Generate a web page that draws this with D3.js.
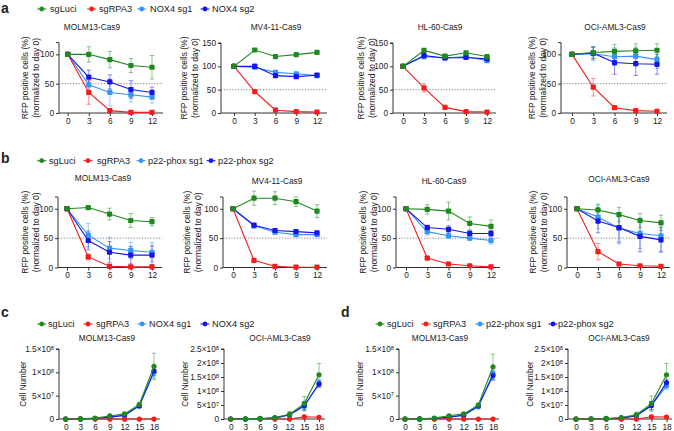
<!DOCTYPE html>
<html><head><meta charset="utf-8">
<script src="https://cdn.jsdelivr.net/npm/d3@7"></script>
<style>body{margin:0;background:#fff}svg{display:block}text{font-family:"Liberation Sans",Arial,sans-serif;fill:#222}</style>
</head><body><svg id="c" width="674" height="431"></svg>
<script>
// ---------------- DATA ----------------
const namesNOX4 = ["sgLuci", "sgRPA3", "NOX4 sg1", "NOX4 sg2"];
const namesP22 = ["sgLuci", "sgRPA3", "p22-phox sg1", "p22-phox sg2"];
const daysRFP = [0, 3, 6, 9, 12];
const daysGrowth = [0, 3, 6, 9, 12, 15, 18];
const cellLinesAB = ["MOLM13-Cas9", "MV4-11-Cas9", "HL-60-Cas9", "OCI-AML3-Cas9"];
const cellLinesCD = ["MOLM13-Cas9", "OCI-AML3-Cas9"];
const rfpTicks120 = [0, 50, 100];
const rfpTicks150 = [0, 50, 100, 150];
const cellTicksMOLM13 = [0, 5e7, 1e8, 1.5e8];
const cellTicksOCI = [0, 5e7, 1e8, 1.5e8, 2e8, 2.5e8];

// panel a (NOX4) means / errors  : order sgLuci, sgRPA3, sg1, sg2
const aMOLM13 = [[100,100,91,81,78],[100,35,4,1,1],[100,48,35,31,27],[100,61,53,40,35]];
const aMOLM13Err = [[0,13,14,12,20],[0,20,2,1,1],[0,13,23,12,10],[0,12,12,15,9]];
const aMV411 = [[100,135,121,125,130],[100,46,6,3,2],[100,98,87,84,80],[100,100,80,78,81]];
const aMV411Err = [[0,3,3,3,3],[0,3,2,1,1],[0,3,4,3,3],[0,5,3,3,3]];
const aHL60 = [[100,134,122,129,121],[100,54,12,3,2],[100,121,118,121,112],[100,123,118,119,116]];
const aHL60Err = [[0,3,3,3,3],[0,9,2,1,1],[0,5,3,4,3],[0,3,3,3,3]];
const aOCI = [[100,103,105,106,107],[100,44,9,4,3],[100,101,96,97,91],[100,102,86,84,83]];
const aOCIErr = [[0,10,12,12,11],[0,15,2,1,1],[0,12,15,15,15],[0,10,20,20,17]];
// panel b (p22-phox)
const bMOLM13 = [[100,102,91,80,78],[100,18,2,1,1],[100,55,33,29,26],[100,46,26,21,21]];
const bMOLM13Err = [[0,2,10,12,7],[0,5,1,1,1],[0,20,18,14,16],[0,16,18,15,16]];
const bMV411 = [[100,118,118,112,96],[100,12,2,0.5,0.5],[100,71,60,56,56],[100,72,63,61,59]];
const bMV411Err = [[0,12,11,8,11],[0,2,1,0,0],[0,4,3,3,3],[0,3,3,3,3]];
const bHL60 = [[100,99,96,75,70],[100,16,6,3,1],[100,61,54,50,46],[100,68,65,58,58]];
const bHL60Err = [[0,8,15,11,11],[0,2,1,1,1],[0,6,4,4,6],[0,4,6,4,5]];
const bOCI = [[100,98,90,80,76],[100,27,6,3,2],[100,86,67,58,54],[100,79,68,53,47]];
const bOCIErr = [[0,10,12,12,13],[0,14,3,2,1],[0,20,27,26,26],[0,20,25,26,21]];
// panel c (NOX4 growth)
const cMOLM13 = [[0,2e5,2e6,6.5e6,1.1e7,3.1e7,1.13e8],[0,0,0,0,0,0,0],[0,1e5,1e6,4e6,7.5e6,2.8e7,1.0e8],[0,1e5,1e6,4e6,8e6,2.8e7,1.03e8]];
const cMOLM13Err = [[0,0,1e6,2e6,3e6,4e6,2.8e7],[0,0,0,0,0,0,0],[0,0,1e6,1e6,2e6,3e6,1.2e7],[0,0,1e6,1e6,2e6,3e6,1e7]];
const cOCI = [[0,5e5,2e6,5e6,1.7e7,5.5e7,1.58e8],[0,0,0,0,0,8e6,6e6],[0,0,1e6,3e6,1.5e7,4.5e7,1.28e8],[0,0,1e6,3e6,1.5e7,4.8e7,1.25e8]];
const cOCIErr = [[0,0,1e6,2e6,1e7,2.5e7,4e7],[0,0,0,0,0,5e6,5e6],[0,0,1e6,2e6,5e6,1.5e7,1.2e7],[0,0,1e6,2e6,5e6,1.5e7,1.2e7]];
// panel d (p22-phox growth)
const dMOLM13 = [[0,2e5,2e6,7e6,1.1e7,3e7,1.12e8],[0,0,0,0,0,0,0],[0,1e5,1e6,4e6,8e6,2.6e7,0.98e8],[0,1e5,1e6,4e6,8e6,2.8e7,0.93e8]];
const dMOLM13Err = [[0,0,1e6,2e6,3e6,4e6,2.7e7],[0,0,0,0,0,0,0],[0,0,1e6,1e6,2e6,3e6,1.2e7],[0,0,1e6,1e6,2e6,3e6,1e7]];
const dOCI = [[0,5e5,2e6,5e6,1.5e7,5.5e7,1.58e8],[0,0,0,0,0,8e6,7e6],[0,0,1e6,3e6,1.2e7,4.8e7,1.18e8],[0,0,1e6,3e6,1.2e7,4.8e7,1.3e8]];
const dOCIErr = [[0,0,1e6,2e6,1e7,2.7e7,4e7],[0,0,0,0,0,5e6,5e6],[0,0,1e6,2e6,5e6,1.5e7,1.2e7],[0,0,1e6,2e6,5e6,1.5e7,1.2e7]];

const colors = ["#1e8a1e", "#f41c1c", "#3396f5", "#1616ea"];

// ---------------- DRAW ----------------
const svg = d3.select("#c");
const FONT = '"Liberation Sans",Arial,sans-serif';

function supLabel(sel, v) {
  sel.text(null);
  if (v === 0) { sel.append("tspan").text("0"); return; }
  const e = Math.floor(Math.log10(v));
  const m = +(v / Math.pow(10, e)).toFixed(2);
  sel.append("tspan").text(m + "\u00d710");
  sel.append("tspan").attr("dy", "-0.45em").attr("font-size", "0.7em").text(e);
}

function panel(p) {
  const g = svg.append("g");
  const x = d3.scaleLinear().domain([p.days[0], p.days[p.days.length - 1]]).range(p.xr);
  const y = d3.scaleLinear().domain(p.yd).range(p.yr);
  if (p.ref) {
    g.append("line").attr("x1", p.axL).attr("x2", p.axR).attr("y1", y(50)).attr("y2", y(50))
      .attr("stroke", "#777").attr("stroke-width", 0.9).attr("stroke-dasharray", "1.2,1.6");
  }
  const ya = d3.axisLeft(y).tickValues(p.yticks).tickSize(3).tickPadding(2);
  const yg = g.append("g").attr("transform", `translate(${p.axL},0)`).call(ya);
  yg.select(".domain").attr("d", `M-3,${y(p.yd[1])}H0V${y(0)}`);
  if (p.sup) yg.selectAll(".tick text").each(function (d) { supLabel(d3.select(this), d); });
  const xa = d3.axisBottom(x).tickValues(p.days).tickSize(3).tickPadding(2);
  const xg = g.append("g").attr("transform", `translate(0,${y(0)})`).call(xa);
  xg.select(".domain").attr("d", `M${p.axL},0H${p.axR}`);
  [yg, xg].forEach(a => {
    a.selectAll("path,line").attr("stroke", "#333").attr("stroke-width", 1);
    a.selectAll("text").attr("font-family", FONT).attr("font-size", 8.3).attr("fill", "#222");
  });
  const order = [2, 3, 1, 0];
  order.forEach(si => {
    const col = colors[si];
    p.days.forEach((d, i) => {
      const e = p.err[si][i]; if (!e) return;
      const m = p.mean[si][i];
      const eg = g.append("g").attr("stroke", col).attr("stroke-opacity", 0.55).attr("stroke-width", 0.9);
      eg.append("line").attr("x1", x(d)).attr("x2", x(d)).attr("y1", y(m - e)).attr("y2", y(m + e));
      eg.append("line").attr("x1", x(d) - 2.2).attr("x2", x(d) + 2.2).attr("y1", y(m + e)).attr("y2", y(m + e));
      eg.append("line").attr("x1", x(d) - 2.2).attr("x2", x(d) + 2.2).attr("y1", y(m - e)).attr("y2", y(m - e));
    });
  });
  order.forEach(si => {
    const col = colors[si];
    const pts = p.days.map((d, i) => [d, p.mean[si][i]]);
    g.append("path").datum(pts).attr("fill", "none").attr("stroke", col).attr("stroke-width", 1.1)
      .attr("d", d3.line().x(q => x(q[0])).y(q => y(q[1])));
    if (p.square) {
      g.selectAll(null).data(pts).enter().append("rect")
        .attr("x", q => x(q[0]) - 2.6).attr("y", q => y(q[1]) - 2.6).attr("width", 5.2).attr("height", 5.2)
        .attr("rx", 0.8).attr("fill", col);
    } else {
      g.selectAll(null).data(pts).enter().append("circle")
        .attr("cx", q => x(q[0])).attr("cy", q => y(q[1])).attr("r", 2.6).attr("fill", col);
    }
  });
  g.append("text").attr("x", p.tx).attr("y", p.ty).attr("text-anchor", "middle")
    .attr("font-size", 8.3).text(p.title);
  const yc = (y(0) + y(p.yd[1])) / 2;
  p.ylab.forEach((t, i) => {
    g.append("text").attr("transform", `translate(${p.ylx[i]},${yc}) rotate(-90)`)
      .attr("text-anchor", "middle").attr("font-size", p.ylfs).text(t);
  });
}

function legend(names, items, yy) {
  const g = svg.append("g");
  names.forEach((n, i) => {
    const [mx, tx] = items[i];
    g.append("line").attr("x1", mx - 4.5).attr("x2", mx + 4.5).attr("y1", yy).attr("y2", yy)
      .attr("stroke", colors[i]).attr("stroke-width", 1.1);
    g.append("circle").attr("cx", mx).attr("cy", yy).attr("r", 2.4).attr("fill", colors[i]);
    g.append("text").attr("x", tx).attr("y", yy + 3.2).attr("font-size", 9.2).text(n);
  });
}

function letter(t, xx, yy) {
  svg.append("text").attr("x", xx).attr("y", yy).attr("font-size", 14).attr("font-weight", "bold")
    .attr("fill", "#000").text(t);
}

const ylabRFP = ["RFP positive cells (%)", "(normalized to day 0)"];
const ylabCell = ["Cell Number"];

// ---- row a ----
letter("a", 1, 13);
legend(namesNOX4, [[41.7, 50], [91.7, 99], [141.7, 150], [205, 212]], 9);
const aMeans = [aMOLM13, aMV411, aHL60, aOCI], aErrs = [aMOLM13Err, aMV411Err, aHL60Err, aOCIErr];
const aGeo = [
  {axL: 59, axR: 163, xr: [67.7, 152], ymax: 120, tx: 92, ylx: [28, 39]},
  {axL: 221, axR: 327, xr: [234, 317], ymax: 150, tx: 276, ylx: [187, 198]},
  {axL: 393, axR: 496, xr: [403, 487], ymax: 150, tx: 440, ylx: [364, 375]},
  {axL: 561, axR: 667, xr: [572, 657], ymax: 120, tx: 615, ylx: [535, 546]}
];
aGeo.forEach((q, i) => panel({
  days: daysRFP, xr: q.xr, axL: q.axL, axR: q.axR,
  yd: [0, q.ymax], yr: [113, q.ymax === 120 ? 42.6 : 43], yticks: q.ymax === 120 ? rfpTicks120 : rfpTicks150,
  mean: aMeans[i], err: aErrs[i], square: true, ref: true,
  title: cellLinesAB[i], tx: q.tx, ty: 30, ylab: ylabRFP, ylx: q.ylx, ylfs: 8.5
}));

// ---- row b ----
letter("b", 1, 163);
legend(namesP22, [[41.7, 49], [88, 97], [141, 148], [211, 218]], 160.7);
const bMeans = [bMOLM13, bMV411, bHL60, bOCI], bErrs = [bMOLM13Err, bMV411Err, bHL60Err, bOCIErr];
const bGeo = [
  {axL: 58, axR: 162, xr: [67, 152], tx: 103, ty: 181, ylx: [28, 39]},
  {axL: 223, axR: 327, xr: [233, 317], tx: 277, ty: 184, ylx: [190, 201]},
  {axL: 396, axR: 500, xr: [406, 491], tx: 444, ty: 184, ylx: [366, 377]},
  {axL: 567, axR: 670, xr: [577, 661], tx: 619, ty: 182, ylx: [536, 547]}
];
bGeo.forEach((q, i) => panel({
  days: daysRFP, xr: q.xr, axL: q.axL, axR: q.axR,
  yd: [0, 120], yr: [267.5, 197], yticks: rfpTicks120,
  mean: bMeans[i], err: bErrs[i], square: true, ref: true,
  title: cellLinesAB[i], tx: q.tx, ty: q.ty, ylab: ylabRFP, ylx: q.ylx, ylfs: 8.5
}));

// ---- row c ----
letter("c", 1, 317);
legend(namesNOX4, [[41.7, 48], [88, 96], [142, 149], [205, 212]], 324);
panel({days: daysGrowth, xr: [65.7, 154], axL: 59, axR: 160, yd: [0, 1.5e8], yr: [419, 349],
  yticks: cellTicksMOLM13, sup: true, mean: cMOLM13, err: cMOLM13Err, square: false,
  title: cellLinesCD[0], tx: 107, ty: 341, ylab: ylabCell, ylx: [26], ylfs: 8.2});
panel({days: daysGrowth, xr: [230.7, 319], axL: 224, axR: 325, yd: [0, 2.5e8], yr: [419, 349],
  yticks: cellTicksOCI, sup: true, mean: cOCI, err: cOCIErr, square: false,
  title: cellLinesCD[1], tx: 280, ty: 341, ylab: ylabCell, ylx: [188], ylfs: 8.2});

// ---- row d ----
letter("d", 341, 317);
legend(namesP22, [[380, 387], [426, 433], [480, 486], [553, 558]], 324);
panel({days: daysGrowth, xr: [405, 493], axL: 399, axR: 499, yd: [0, 1.5e8], yr: [419, 349],
  yticks: cellTicksMOLM13, sup: true, mean: dMOLM13, err: dMOLM13Err, square: false,
  title: cellLinesCD[0], tx: 440, ty: 341, ylab: ylabCell, ylx: [363], ylfs: 8.2});
panel({days: daysGrowth, xr: [576, 666.5], axL: 568, axR: 672, yd: [0, 2.5e8], yr: [419, 349],
  yticks: cellTicksOCI, sup: true, mean: dOCI, err: dOCIErr, square: false,
  title: cellLinesCD[1], tx: 619, ty: 341, ylab: ylabCell, ylx: [533], ylfs: 8.2});
</script></body></html>
